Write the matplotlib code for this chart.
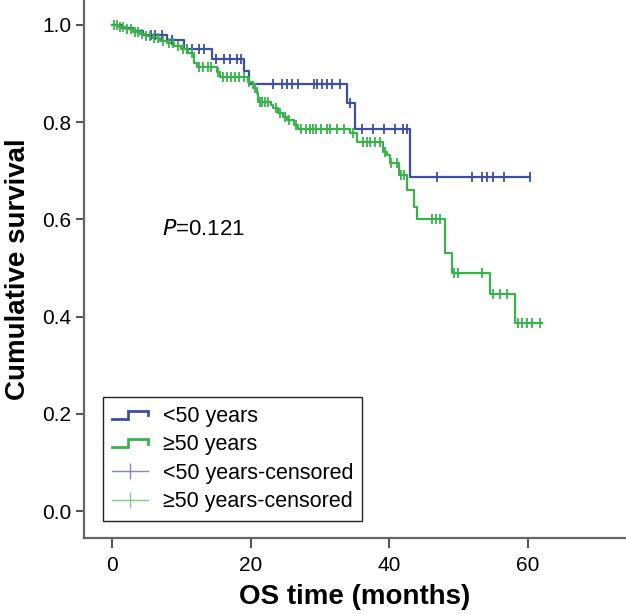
import numpy as np
import matplotlib
matplotlib.use('Agg')
import matplotlib.pyplot as plt
from matplotlib.lines import Line2D
from matplotlib.legend_handler import HandlerBase

plt.rcParams['font.family'] = ['Liberation Sans', 'DejaVu Sans']

# Kaplan-Meier steps (months, survival after step)
young_t = [0, 1.5, 3.0, 4.5, 8.0, 10.4, 14.5, 19.0, 19.8, 33.9, 35.1, 43.0, 60.3]
young_s = [1.0, 0.994, 0.988, 0.980, 0.969, 0.950, 0.929, 0.905, 0.879, 0.839, 0.786, 0.688, 0.688]
young_cens = [5.6, 6.3, 7.3, 8.7, 10.9, 11.6, 12.6, 13.3, 15.0, 16.2, 17.1, 18.1, 18.6,
              23.3, 24.5, 25.2, 25.9, 26.9, 29.1, 29.6, 30.3, 31.0, 31.7, 32.9, 34.3,
              36.0, 37.7, 39.2, 40.8, 42.0, 42.5,
              46.9, 51.9, 53.3, 54.0, 55.0, 56.5, 60.3]

old_t = [0, 1.0, 2.0, 3.0, 4.0, 5.0, 6.0, 7.0, 8.0, 9.0, 10.0, 11.0, 11.8, 12.3, 15.1, 15.6,
         19.6, 20.4, 20.9, 21.1, 23.0, 23.3, 24.0, 24.7, 25.2, 26.2, 26.9, 34.4, 35.3,
         39.1, 39.6, 40.1, 41.4, 42.5, 43.5, 44.0, 48.0, 49.0, 54.5, 58.1, 62.0]
old_s = [1.0, 0.996, 0.991, 0.986, 0.981, 0.976, 0.972, 0.967, 0.962, 0.957, 0.950, 0.941,
         0.921, 0.914, 0.903, 0.893, 0.883, 0.869, 0.859, 0.842, 0.835, 0.828, 0.818, 0.811,
         0.804, 0.794, 0.786, 0.777, 0.759, 0.739, 0.732, 0.715, 0.691, 0.660, 0.626, 0.600,
         0.530, 0.490, 0.446, 0.386, 0.386]
old_cens = [0.3, 0.7, 1.2, 1.6, 2.2, 2.7, 3.3, 3.8, 4.4, 5.0, 5.5, 6.1, 6.6, 7.4, 8.2, 8.8,
            9.5, 10.3, 10.8, 11.5, 12.6, 13.2, 13.8, 14.3, 15.3, 16.0, 16.6, 17.2, 17.8,
            18.4, 19.1, 19.8, 20.6, 21.3, 21.7, 22.1, 22.5, 23.6, 24.2, 24.9, 25.6, 26.5,
            27.3, 28.0, 28.6, 29.0, 29.5, 30.2, 31.0, 31.5, 32.4, 33.4, 34.8, 36.2, 36.8,
            37.2, 37.9, 38.6, 39.4, 40.3, 41.1, 41.7, 42.1, 46.2, 46.7, 47.3, 49.3, 49.9,
            53.3, 54.9, 55.9, 56.9, 58.6, 59.1, 59.8, 60.5, 61.7]

labels = ['<50 years', '\u226550 years', '<50 years-censored', '\u226550 years-censored']
blue = '#3d4ea3'
green = '#38b34a'


def surv_at(t, s, times):
    idx = np.searchsorted(t, times, side='right') - 1
    return np.array(s)[idx]


class StepHandler(HandlerBase):
    # little step icon like the SPSS legend
    def create_artists(self, legend, orig_handle, xdescent, ydescent,
                       width, height, fontsize, trans):
        x0 = -xdescent
        y0 = -ydescent
        xs = [x0, x0 + 0.45 * width, x0 + 0.45 * width, x0 + width, x0 + width]
        ys = [y0 + 0.2 * height, y0 + 0.2 * height, y0 + 0.75 * height,
              y0 + 0.75 * height, y0 + 0.45 * height]
        line = Line2D(xs, ys, color=orig_handle.get_color(), lw=2, solid_joinstyle='miter')
        line.set_transform(trans)
        return [line]


fig = plt.figure(figsize=(6.26, 6.14), dpi=100)
ax = fig.add_axes([0.1342, 0.1233, 0.8658, 0.8767])

ax.step(young_t, young_s, where='post', color=blue, lw=1.6)
ax.step(old_t, old_s, where='post', color=green, lw=1.6)
ax.plot(young_cens, surv_at(young_t, young_s, young_cens), ls='none', marker='|',
        ms=7, mew=1.3, color=blue)
ax.plot(old_cens, surv_at(old_t, old_s, old_cens), ls='none', marker='|',
        ms=7, mew=1.3, color=green)

ax.text(7.3, 0.58, r'$\it{P}$=0.121', fontsize=16, va='center', ha='left')

ax.set_xlim(-4.0, 74.1)
ax.set_ylim(-0.056, 1.051)
ax.set_xticks([0, 20, 40, 60])
ax.set_yticks([0.0, 0.2, 0.4, 0.6, 0.8, 1.0])
ax.set_yticklabels(['0.0', '0.2', '0.4', '0.6', '0.8', '1.0'])
ax.tick_params(labelsize=15, color='#555555', width=1.5, length=6, pad=3)
ax.tick_params(axis='x', length=7, pad=6)

for side in ['top', 'right']:
    ax.spines[side].set_visible(False)
for side in ['left', 'bottom']:
    ax.spines[side].set_color('#666666')
    ax.spines[side].set_linewidth(1.6)

ax.set_xlabel('OS time (months)', fontsize=20, fontweight='bold', labelpad=6)
ax.set_ylabel('Cumulative survival', fontsize=20, fontweight='bold', labelpad=8)

h1 = Line2D([], [], color=blue)
h2 = Line2D([], [], color=green)
h3 = Line2D([], [], color='#7f8ac4', lw=1, marker='|', ms=11, mew=1)
h4 = Line2D([], [], color='#80cc88', lw=1, marker='|', ms=11, mew=1)
leg = ax.legend([h1, h2, h3, h4], labels, loc='upper left',
                bbox_to_anchor=(0.035, 0.262), borderaxespad=0, fontsize=15.5,
                numpoints=1, handlelength=1.7, handletextpad=0.7,
                labelspacing=0.35, borderpad=0.4, fancybox=False, framealpha=1,
                edgecolor='#222222', handler_map={h1: StepHandler(), h2: StepHandler()})
leg.get_frame().set_linewidth(1.0)

plt.savefig('out.png', dpi=100)
